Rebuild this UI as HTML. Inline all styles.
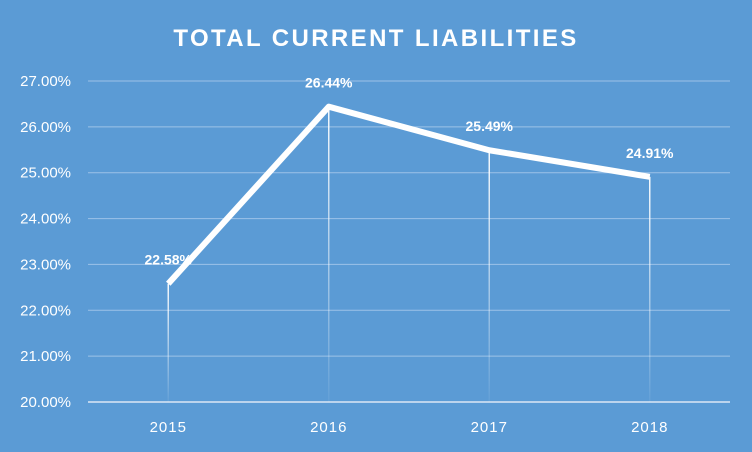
<!DOCTYPE html>
<html><head><meta charset="utf-8"><style>
html,body{margin:0;padding:0;background:#5B9BD5;}
svg{display:block;font-family:"Liberation Sans",sans-serif;}
</style></head><body>
<svg id="chart" width="752" height="452" viewBox="0 0 752 452">
<defs>
<linearGradient id="drop" x1="0" y1="0" x2="0" y2="1">
<stop offset="0" stop-color="#fff" stop-opacity="0.95"/>
<stop offset="1" stop-color="#fff" stop-opacity="0.05"/>
</linearGradient>
</defs>
<rect width="752" height="452" fill="#5B9BD5"/>
<text x="376" y="46" text-anchor="middle" fill="#fff" font-size="24" font-weight="bold" letter-spacing="2.4">TOTAL CURRENT LIABILITIES</text>
<g id="grid"></g><g id="drops"></g><g id="series"></g><g id="labels"></g>
</svg>
<script>
const categories=["2015","2016","2017","2018"];
const values=[22.58,26.44,25.49,24.91];
const yTicks=[20,21,22,23,24,25,26,27];
const NS="http://www.w3.org/2000/svg";
const x0=88,x1=730,yMin=20,yMax=27,yTop=81,yBot=402;
const y=v=>yBot-(v-yMin)/(yMax-yMin)*(yBot-yTop);
const step=(x1-x0)/categories.length;
const x=i=>x0+step*(i+0.5);
function mk(t,a,p){const e=document.createElementNS(NS,t);for(const k in a)e.setAttribute(k,a[k]);p.appendChild(e);return e;}
const grid=document.getElementById('grid'),drops=document.getElementById('drops'),series=document.getElementById('series'),labels=document.getElementById('labels');
yTicks.forEach(t=>{
 const l=mk('line',{x1:x0,x2:x1,y1:y(t),y2:y(t),stroke:t===yMin?'#dce8f5':'#9cc2e8','stroke-width':t===yMin?1.5:1},grid);
 
 
 const tx=mk('text',{x:71,y:y(t)+5,'text-anchor':'end',fill:'#fff','font-size':15},grid);
 tx.textContent=t.toFixed(2)+'%';
 
 
});
categories.forEach((c,i)=>{
 const tx=mk('text',{x:x(i),y:432,'text-anchor':'middle',fill:'#fff','font-size':15,'letter-spacing':1},grid);
 tx.textContent=c;
 
 
 const d=mk('rect',{x:x(i)-0.75,y:y(values[i]),width:1.5,height:yBot-y(values[i]),fill:'url(#drop)'},drops);
 
 
 const lb=mk('text',{x:x(i),y:y(values[i])-19,'text-anchor':'middle',fill:'#fff','font-size':14,'font-weight':'bold'},labels);
 lb.textContent=values[i].toFixed(2)+'%';
 
 
});
const pl=mk('polyline',{points:values.map((v,i)=>x(i)+','+y(v)).join(' '),fill:'none',stroke:'#fff','stroke-width':6,'stroke-linejoin':'round'},series);


</script>
</body></html>
